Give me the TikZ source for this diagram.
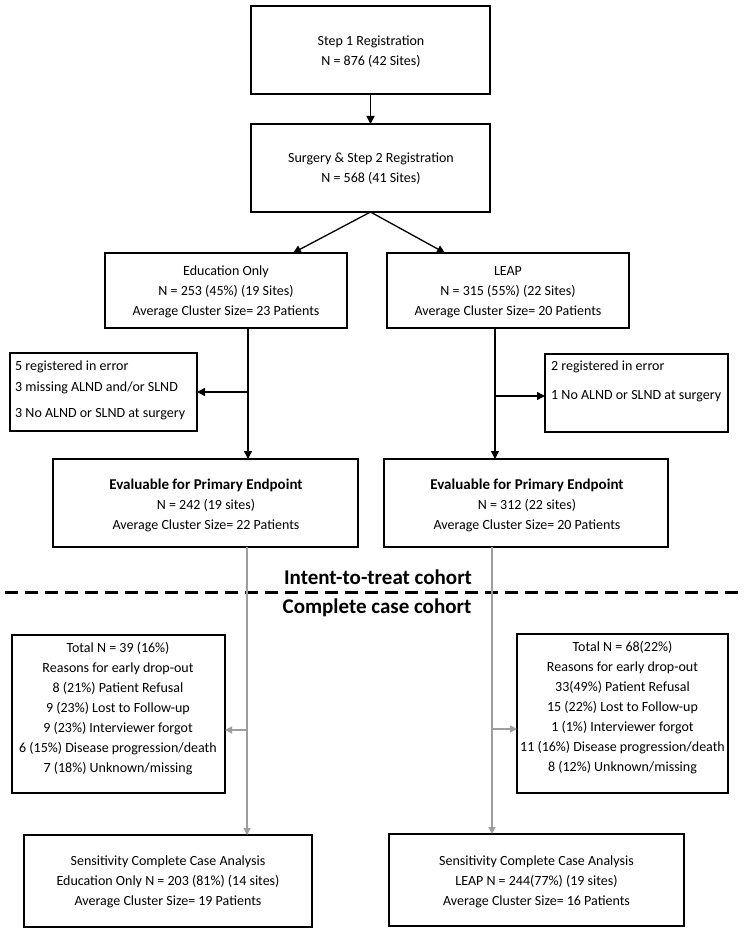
\documentclass[tikz,border=0pt]{standalone}
\usepackage{fontspec}
\setmainfont{Carlito}
\usetikzlibrary{arrows.meta}
\begin{document}
\begin{tikzpicture}[x=1pt,y=-1pt,
  box/.style={draw=black, line width=1.4pt, inner sep=0pt, outer sep=0pt},
  txt/.style={font=\fontsize{14}{20}\selectfont, align=center, inner sep=0pt},
  ltxt/.style={font=\fontsize{14}{20}\selectfont, align=left, inner sep=0pt, anchor=west},
  cohort/.style={font=\fontsize{21}{24}\selectfont\bfseries, inner sep=0pt},
  arr/.style={line width=1.3pt, draw=black, -{Triangle[length=8pt,width=8pt]}},
  garr/.style={line width=1.3pt, draw=black!38, -{Triangle[length=7pt,width=7pt]}},
  dashline/.style={line width=3pt, draw=black, dash pattern=on 13pt off 7pt}
]
\fill[white] (0,0) rectangle (750,933);
\useasboundingbox (0,0) rectangle (750,933);

% boxes
\node[box, minimum width=239pt, minimum height=88pt] (b1) at (370.5,50) {};
\node[box, minimum width=239pt, minimum height=88pt] (b2) at (370.5,168) {};
\node[box, minimum width=242pt, minimum height=75pt] (edu) at (226,290.5) {};
\node[box, minimum width=242pt, minimum height=75pt] (leap) at (508,290.5) {};
\node[box, minimum width=187pt, minimum height=78pt] (ex1) at (103.5,392) {};
\node[box, minimum width=183pt, minimum height=78pt] (ex2) at (636.5,393) {};
\node[box, minimum width=305pt, minimum height=88pt] (ev1) at (205.5,503) {};
\node[box, minimum width=284pt, minimum height=88pt] (ev2) at (526,503) {};
\node[box, minimum width=213pt, minimum height=158pt] (dr1) at (118.5,714) {};
\node[box, minimum width=211pt, minimum height=159pt] (dr2) at (622.5,713.5) {};
\node[box, minimum width=288pt, minimum height=92pt] (se1) at (168,881) {};
\node[box, minimum width=295pt, minimum height=92pt] (se2) at (536.5,880) {};

% texts
\node[txt] (t1) at (371,52) {Step 1 Registration\\N = 876 (42 Sites)};
\node[txt] (t2) at (371,169) {Surgery \& Step 2 Registration\\N = 568 (41 Sites)};
\node[txt] (tedu) at (226,292) {Education Only\\N = 253 (45\%) (19 Sites)\\Average Cluster Size= 23 Patients};
\node[txt] (tleap) at (508,292) {LEAP\\N = 315 (55\%) (22 Sites)\\Average Cluster Size= 20 Patients};
\node[ltxt] (tex1) at (15,390.5) {5 registered in error\\[1pt]3 missing ALND and/or SLND\\[6pt]3 No ALND or SLND at surgery};
\node[ltxt] (tex2) at (551,381.5) {2 registered in error\\[9pt]1 No ALND or SLND at surgery};
\node[txt] (tev1) at (206,505) {{\fontsize{15}{20}\selectfont\bfseries Evaluable for Primary Endpoint}\\N = 242 (19 sites)\\Average Cluster Size= 22 Patients};
\node[txt] (tev2) at (527,505) {{\fontsize{15}{20}\selectfont\bfseries Evaluable for Primary Endpoint}\\N = 312 (22 sites)\\Average Cluster Size= 20 Patients};
\node[txt] (tdr1) at (118,709) {Total N = 39 (16\%)\\Reasons for early drop-out\\8 (21\%) Patient Refusal\\9 (23\%) Lost to Follow-up\\9 (23\%) Interviewer forgot\\6 (15\%) Disease progression/death\\7 (18\%) Unknown/missing};
\node[txt] (tdr2) at (622.5,708) {Total N = 68(22\%)\\Reasons for early drop-out\\33(49\%) Patient Refusal\\15 (22\%) Lost to Follow-up\\1 (1\%) Interviewer forgot\\11 (16\%) Disease progression/death\\8 (12\%) Unknown/missing};
\node[txt] (tse1) at (168,882) {Sensitivity Complete Case Analysis\\Education Only N = 203 (81\%) (14 sites)\\Average Cluster Size= 19 Patients};
\node[txt] (tse2) at (536.5,882) {Sensitivity Complete Case Analysis\\LEAP N = 244(77\%) (19 sites)\\Average Cluster Size= 16 Patients};

% cohort divider
\node[cohort] (itt) at (378,577) {Intent-to-treat cohort};
\node[cohort] (cc) at (377,608) {Complete case cohort};
\coordinate (dl) at (5,592);
\coordinate (dr) at (745,592);
\draw[dashline] (dl) -- (dr);

% trunk coordinates
\coordinate (ls) at (248,0);
\coordinate (rs) at (495,0);
\coordinate (gl) at (247,0);
\coordinate (gr) at (492,0);

% connectors
\draw[arr] (b1.south) -- (b2.north);
\draw[arr] (b2.south) -- ([xshift=67pt]edu.north);
\draw[arr] (b2.south) -- ([xshift=-63pt]leap.north);
\draw[arr] (edu.south -| ls) -- (ev1.north -| ls);
\draw[arr] (ls |- ex1.east) -- (ex1.east);
\draw[arr] (leap.south -| rs) -- (ev2.north -| rs);
\draw[arr] ([yshift=-3pt]ex2.west -| rs) -- ([yshift=-3pt]ex2.west);
\draw[garr] (ev1.south -| gl) -- (se1.north -| gl);
\draw[garr] ([yshift=-16pt]dr1.east -| gl) -- ([yshift=-16pt]dr1.east);
\draw[garr] (ev2.south -| gr) -- (se2.north -| gr);
\draw[garr] ([yshift=-15.5pt]dr2.west -| gr) -- ([yshift=-15.5pt]dr2.west);
\end{tikzpicture}
\end{document}
